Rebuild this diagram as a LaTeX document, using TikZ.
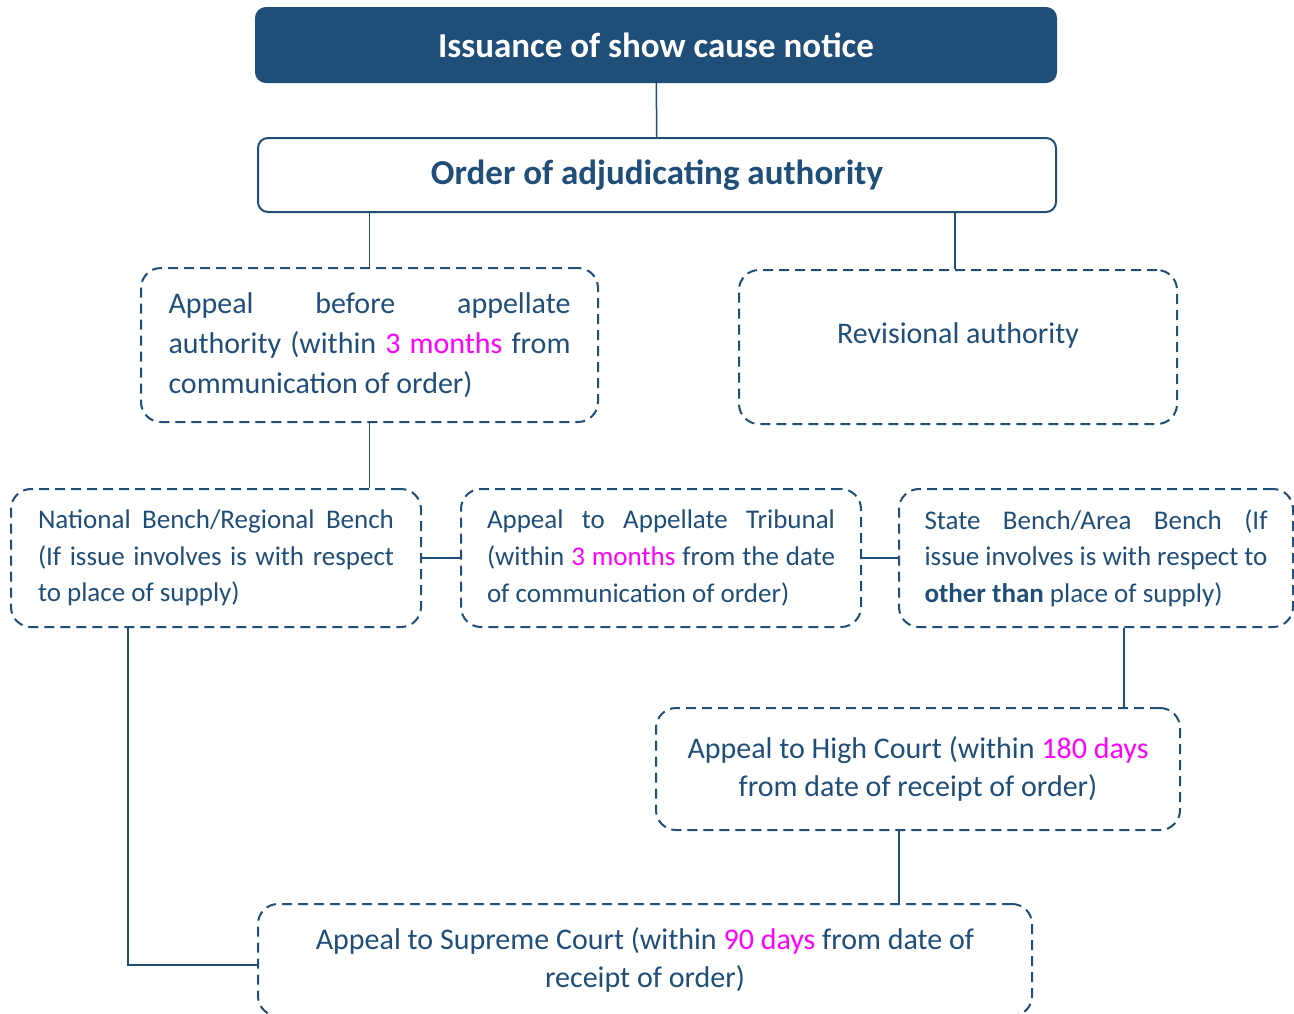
\documentclass[tikz,border=0pt]{standalone}
\usepackage{fontspec}
\setmainfont{Carlito}
\usepackage{xcolor}
\definecolor{navy}{RGB}{31,78,121}
\definecolor{hilite}{RGB}{255,0,255}
\newcommand{\hl}[1]{\textcolor{hilite}{#1}}

\begin{document}
\begin{tikzpicture}[x=0.5pt,y=-0.5pt,
	titlebox/.style={draw=navy,line width=1pt,rounded corners=5pt,minimum width=400pt,minimum height=37pt,inner sep=0pt,font=\fontsize{17.5}{21}\selectfont\bfseries},
	dashbox/.style={draw=navy,line width=1pt,dash pattern=on 5pt off 3pt,rounded corners=10pt,text=navy,inner ysep=0pt,font=\fontsize{15}{19}\selectfont},
	benchbox/.style={dashbox,minimum height=69pt,align=justify,font=\fontsize{13.5}{18.3}\selectfont},
	link/.style={draw=navy,line width=0.75pt}]
	\useasboundingbox (0,0) rectangle (1294,1013);

	\node[titlebox,fill=navy,text=white] (notice) at (656,45) {Issuance of show cause notice};
	\node[titlebox,fill=white,text=navy,minimum width=399pt] (order) at (657,175) {Order of adjudicating authority};

	\node[dashbox,minimum width=228.5pt,minimum height=77pt,text width=201pt,align=justify,font=\fontsize{15}{20}\selectfont] (appellate) at (369.5,345)
		{Appeal before appellate\linebreak authority (within \hl{3 months} from\linebreak communication of order)};
	\node[dashbox,minimum width=219pt,minimum height=77pt,text depth=14pt,align=center] (revisional) at (958,347) {Revisional authority};

	\node[benchbox,minimum width=205pt,text width=178pt] (national) at (216,558)
		{National Bench/Regional Bench\linebreak (If issue involves is with respect\linebreak to place of supply)};
	\node[benchbox,minimum width=200pt,text width=174pt] (tribunal) at (661,558)
		{Appeal to Appellate Tribunal\linebreak (within \hl{3 months} from the date\linebreak of communication of order)};
	\node[benchbox,minimum width=197pt,text width=171.5pt] (state) at (1096,558)
		{State Bench/Area Bench (If\linebreak issue involves is with respect to\linebreak \textbf{other than} place of supply)};

	\node[dashbox,minimum width=262pt,minimum height=61pt,align=center] (high) at (918,769)
		{Appeal to High Court (within \hl{180 days}\\ from date of receipt of order)};
	\node[dashbox,minimum width=387pt,minimum height=56pt,align=center] (supreme) at (645,960)
		{Appeal to Supreme Court (within \hl{90 days} from date of\\ receipt of order)};

	% connectors
	\draw[link] (notice) -- (order);
	\draw[link] (appellate.north |- order.south) -- (appellate.north);
	\draw[link] ([xshift=-1.5pt]revisional.north |- order.south) -- ([xshift=-1.5pt]revisional.north);
	\draw[link] (appellate.south) -- (appellate.south |- national.north);
	\draw[link] (national.east |- tribunal.west) -- (tribunal.west);
	\draw[link] (tribunal.east) -- (state.west);
	\draw[link,line width=1.2pt] ([xshift=14pt]state.south) -- ([xshift=14pt]state.south |- high.north);
	\draw[link] ([xshift=-9.5pt]high.south) -- ([xshift=-9.5pt]high.south |- supreme.north);
	\draw[link] ([xshift=-44pt]national.south) |- ([yshift=-2.5pt]supreme.west);
\end{tikzpicture}
\end{document}
